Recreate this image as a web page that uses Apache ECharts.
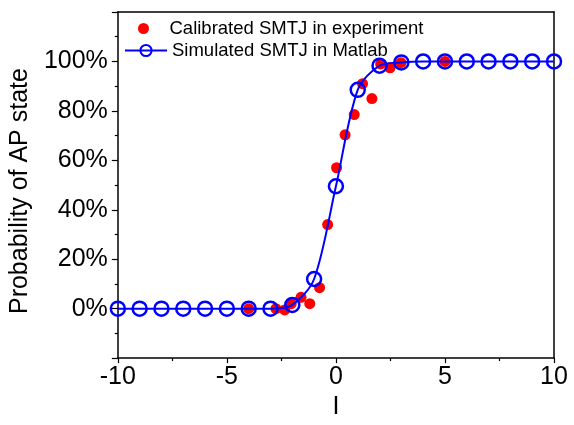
<!DOCTYPE html>
<html>
<head>
<meta charset="utf-8">
<script src="https://cdn.jsdelivr.net/npm/echarts@6/dist/echarts.min.js"></script>
<style>
  html, body { margin: 0; padding: 0; background: #fff; }
  #chart { width: 574px; height: 425px; }
</style>
</head>
<body>
<div id="chart"></div>
<script>
// experiment points (current I, probability in %)
const expX = [-4, -2.75, -2.35, -2.05, -1.6, -1.2, -0.75, -0.38, 0.03, 0.42, 0.84, 1.22, 1.65, 2.05, 2.48, 2.98, 5];
const expY = [0, 0, -0.5, 2, 4.6, 2, 8.5, 34, 57, 70.3, 78.5, 91, 85, 99, 97.4, 99.5, 100];

// matlab simulation
const simX = [-10, -9, -8, -7, -6, -5, -4, -3, -2, -1, 0, 1, 2, 3, 4, 5, 6, 7, 8, 9, 10];
const simY = [0, 0, 0, 0, 0, 0, 0, 0, 1.5, 12, 49.5, 88.5, 98.3, 99.6, 100, 100, 100, 100, 100, 100, 100];

const yTicks = [0, 20, 40, 60, 80, 100];

const font = '"Liberation Sans", Arial, sans-serif';
const legendText = { fontFamily: font, fontSize: 18.5, color: '#000' };
const chart = echarts.init(document.getElementById('chart'));

const option = {
  animation: false,
  backgroundColor: '#fff',
  grid: { left: 116, right: 20, top: 12, bottom: 62, containLabel: false },
  legend: [
    {
      left: 133, top: 14,
      itemWidth: 42, itemHeight: 11,
      textStyle: legendText,
      data: ['Calibrated SMTJ in experiment']
    },
    {
      left: 119, top: 36,
      itemWidth: 42, itemHeight: 14,
      textStyle: legendText,
      data: ['Simulated SMTJ in Matlab']
    }
  ],
  xAxis: [
    {
      type: 'value',
      min: -10, max: 10, interval: 5,
      name: 'I',
      nameLocation: 'middle',
      nameGap: 29,
      nameTextStyle: { fontFamily: font, fontSize: 25, color: '#000' },
      axisLine: { onZero: false, lineStyle: { color: '#000', width: 1.5 } },
      axisTick: { length: 5, lineStyle: { color: '#000', width: 1.2 } },
      minorTick: { show: true, splitNumber: 2, length: 3, lineStyle: { color: '#000', width: 1.2 } },
      axisLabel: { fontFamily: font, fontSize: 25, color: '#000', margin: 7 },
      splitLine: { show: false }
    },
    {
      type: 'value', position: 'top',
      min: -10, max: 10, interval: 5,
      axisLine: { show: true, onZero: false, lineStyle: { color: '#000', width: 1.5 } },
      axisTick: { show: false },
      axisLabel: { show: false },
      splitLine: { show: false }
    }
  ],
  yAxis: [
    {
      type: 'value',
      min: -20, max: 120, interval: 20,
      name: 'Probability of AP state',
      nameLocation: 'middle',
      nameGap: 80,
      nameTextStyle: { fontFamily: font, fontSize: 25, color: '#000', padding: [0, 12, 0, 0] },
      axisLine: { show: true, onZero: false, lineStyle: { color: '#000', width: 1.5 } },
      axisTick: { show: true, length: 6, lineStyle: { color: '#000', width: 1.2 } },
      minorTick: { show: true, splitNumber: 2, length: 3, lineStyle: { color: '#000', width: 1.2 } },
      axisLabel: {
        fontFamily: font, fontSize: 25, color: '#000', margin: 10,
        formatter: v => (yTicks.includes(v) ? v + '%' : '')
      },
      splitLine: { show: false }
    },
    {
      type: 'value', position: 'right',
      min: -20, max: 120, interval: 20,
      axisLine: { show: true, onZero: false, lineStyle: { color: '#000', width: 1.5 } },
      axisTick: { show: false },
      axisLabel: { show: false },
      splitLine: { show: false }
    }
  ],
  series: [
    {
      name: 'Calibrated SMTJ in experiment',
      type: 'scatter',
      data: expX.map((x, i) => [x, expY[i]]),
      symbol: 'circle',
      symbolSize: 11,
      itemStyle: { color: '#ff0000', opacity: 1 },
      z: 2
    },
    {
      name: 'Simulated SMTJ in Matlab',
      type: 'line',
      data: simX.map((x, i) => [x, simY[i]]),
      smooth: 0.3,
      symbol: 'circle',
      symbolSize: 14,
      showAllSymbol: true,
      lineStyle: { color: '#0000ff', width: 2 },
      itemStyle: { color: 'rgba(255,255,255,0)', borderColor: '#0000ff', borderWidth: 2.5 },
      z: 3
    }
  ]
};

chart.setOption(option);
</script>
</body>
</html>
